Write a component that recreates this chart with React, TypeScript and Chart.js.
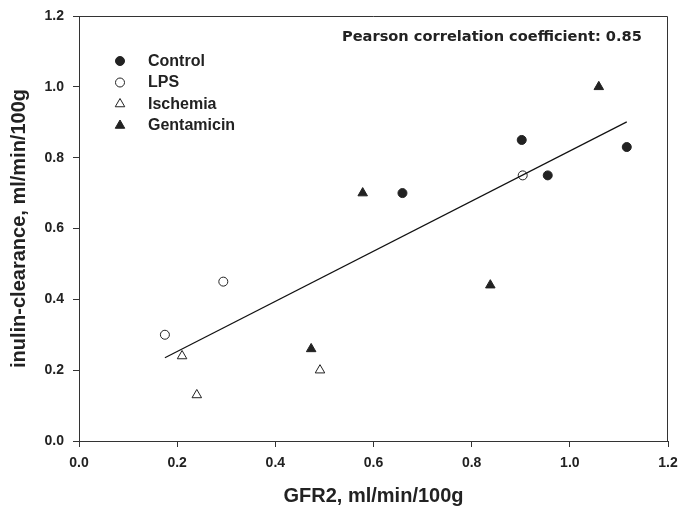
import React, { useEffect, useRef } from "react";
import { Chart, registerables } from "chart.js";

Chart.register(...registerables);

const seriesLabels = ["Control", "LPS", "Ischemia", "Gentamicin"];
const controlX = [0.659, 0.902, 0.955, 1.116];
const controlY = [0.70, 0.85, 0.75, 0.83];
const lpsX = [0.175, 0.294, 0.904];
const lpsY = [0.30, 0.45, 0.75];
const ischemiaX = [0.21, 0.24, 0.491];
const ischemiaY = [0.24, 0.13, 0.20];
const gentamicinX = [0.473, 0.578, 0.838, 1.059];
const gentamicinY = [0.26, 0.70, 0.44, 1.0];
const fitX = [0.175, 1.116];
const fitY = [0.235, 0.901];
const annotationText = "Pearson correlation coefficient: 0.85";
const xTitle = "GFR2, ml/min/100g";
const yTitle = "inulin-clearance, ml/min/100g";

const toPts = (xs: number[], ys: number[]) => xs.map((x, i) => ({ x, y: ys[i] }));

const INK = "#222";

const markerStyles = [
  { style: "circle", fill: INK, r: 4.5 },
  { style: "circle", fill: "#fff", r: 4.5 },
  { style: "triangle", fill: "#fff", r: 5.5 },
  { style: "triangle", fill: INK, r: 5.5 },
];

function drawMarker(ctx: CanvasRenderingContext2D, style: string, x: number, y: number, r: number, fill: string) {
  ctx.save();
  ctx.beginPath();
  if (style === "circle") {
    ctx.arc(x, y, r, 0, Math.PI * 2);
  } else {
    ctx.moveTo(x, y - r);
    ctx.lineTo(x + r * 0.866, y + r * 0.5);
    ctx.lineTo(x - r * 0.866, y + r * 0.5);
    ctx.closePath();
  }
  ctx.fillStyle = fill;
  ctx.fill();
  ctx.lineWidth = 1;
  ctx.strokeStyle = INK;
  ctx.stroke();
  ctx.restore();
}

const decorPlugin = {
  id: "decor",
  afterDraw(chart: any) {
    const ctx: CanvasRenderingContext2D = chart.ctx;
    const a = chart.chartArea;
    ctx.save();
    ctx.strokeStyle = "#333";
    ctx.lineWidth = 1;
    ctx.beginPath();
    ctx.moveTo(a.left, a.top + 0.5);
    ctx.lineTo(a.right - 0.5, a.top + 0.5);
    ctx.lineTo(a.right - 0.5, a.bottom);
    ctx.stroke();

    // legend
    ctx.font = "bold 16px 'Liberation Sans', Arial, sans-serif";
    ctx.textBaseline = "middle";
    ctx.fillStyle = INK;
    seriesLabels.forEach((lab, i) => {
      const y = a.top + 45 + i * 21.5;
      const m = markerStyles[i];
      drawMarker(ctx, m.style, a.left + 41, y, m.r, m.fill);
      ctx.fillStyle = INK;
      ctx.fillText(lab, a.left + 69, y + 0.5);
    });

    // annotation
    ctx.font = "bold 14.6px 'DejaVu Sans', Verdana, sans-serif";
    ctx.textAlign = "left";
    ctx.fillText(annotationText, 342, 37.5);
    ctx.restore();
  },
};

export default function App() {
  const ref = useRef<HTMLCanvasElement | null>(null);
  useEffect(() => {
    if (!ref.current) return;
    const tickFont = { family: "'Liberation Sans', Arial, sans-serif", size: 14, weight: "bold" as const };
    const titleFont = { family: "'Liberation Sans', Arial, sans-serif", size: 20, weight: "bold" as const };
    const mk = (i: number, xs: number[], ys: number[]) => ({
      type: "scatter" as const,
      label: seriesLabels[i],
      data: toPts(xs, ys),
      pointStyle: markerStyles[i].style,
      pointRadius: markerStyles[i].r,
      backgroundColor: markerStyles[i].fill,
      borderColor: INK,
      borderWidth: 1,
    });
    const chart = new Chart(ref.current, {
      type: "scatter",
      data: {
        datasets: [
          {
            type: "line",
            label: "fit",
            data: toPts(fitX, fitY),
            borderColor: "#111",
            borderWidth: 1.2,
            pointRadius: 0,
            fill: false,
          } as any,
          mk(0, controlX, controlY),
          mk(1, lpsX, lpsY),
          mk(2, ischemiaX, ischemiaY),
          mk(3, gentamicinX, gentamicinY),
        ],
      },
      options: {
        animation: false,
        responsive: false,
        devicePixelRatio: 1,
        layout: { padding: { top: 16, right: 11, left: 0, bottom: 0 } },
        plugins: { legend: { display: false }, tooltip: { enabled: false } },
        scales: {
          x: {
            type: "linear",
            min: 0,
            max: 1.2,
            afterFit: (s: any) => { s.height = 71; s.paddingRight = 0; s.paddingLeft = 0; },
            ticks: { stepSize: 0.2, font: tickFont, color: INK, padding: 8, callback: (v: any) => Number(v).toFixed(1) },
            grid: { drawOnChartArea: false, drawTicks: true, tickLength: 6, color: "#333" },
            border: { display: true, color: "#333", width: 1 },
            title: { display: true, text: xTitle, font: titleFont, color: INK, padding: { top: 0, bottom: 4 } },
          },
          y: {
            type: "linear",
            min: 0,
            max: 1.2,
            afterFit: (s: any) => { s.width = 79; s.paddingTop = 0; s.paddingBottom = 0; },
            ticks: { stepSize: 0.2, font: tickFont, color: INK, padding: 9, callback: (v: any) => Number(v).toFixed(1) },
            grid: { drawOnChartArea: false, drawTicks: true, tickLength: 6, color: "#333" },
            border: { display: true, color: "#333", width: 1 },
            title: { display: true, text: yTitle, font: titleFont, color: INK, padding: { top: 7, bottom: 0 } },
          },
        },
      },
      plugins: [decorPlugin],
    });
    return () => chart.destroy();
  }, []);
  return (
    <div style={{ position: "fixed", left: 0, top: 0, width: 679, height: 512, background: "#fff" }}>
      <canvas ref={ref} width={679} height={512} style={{ display: "block" }} />
    </div>
  );
}
